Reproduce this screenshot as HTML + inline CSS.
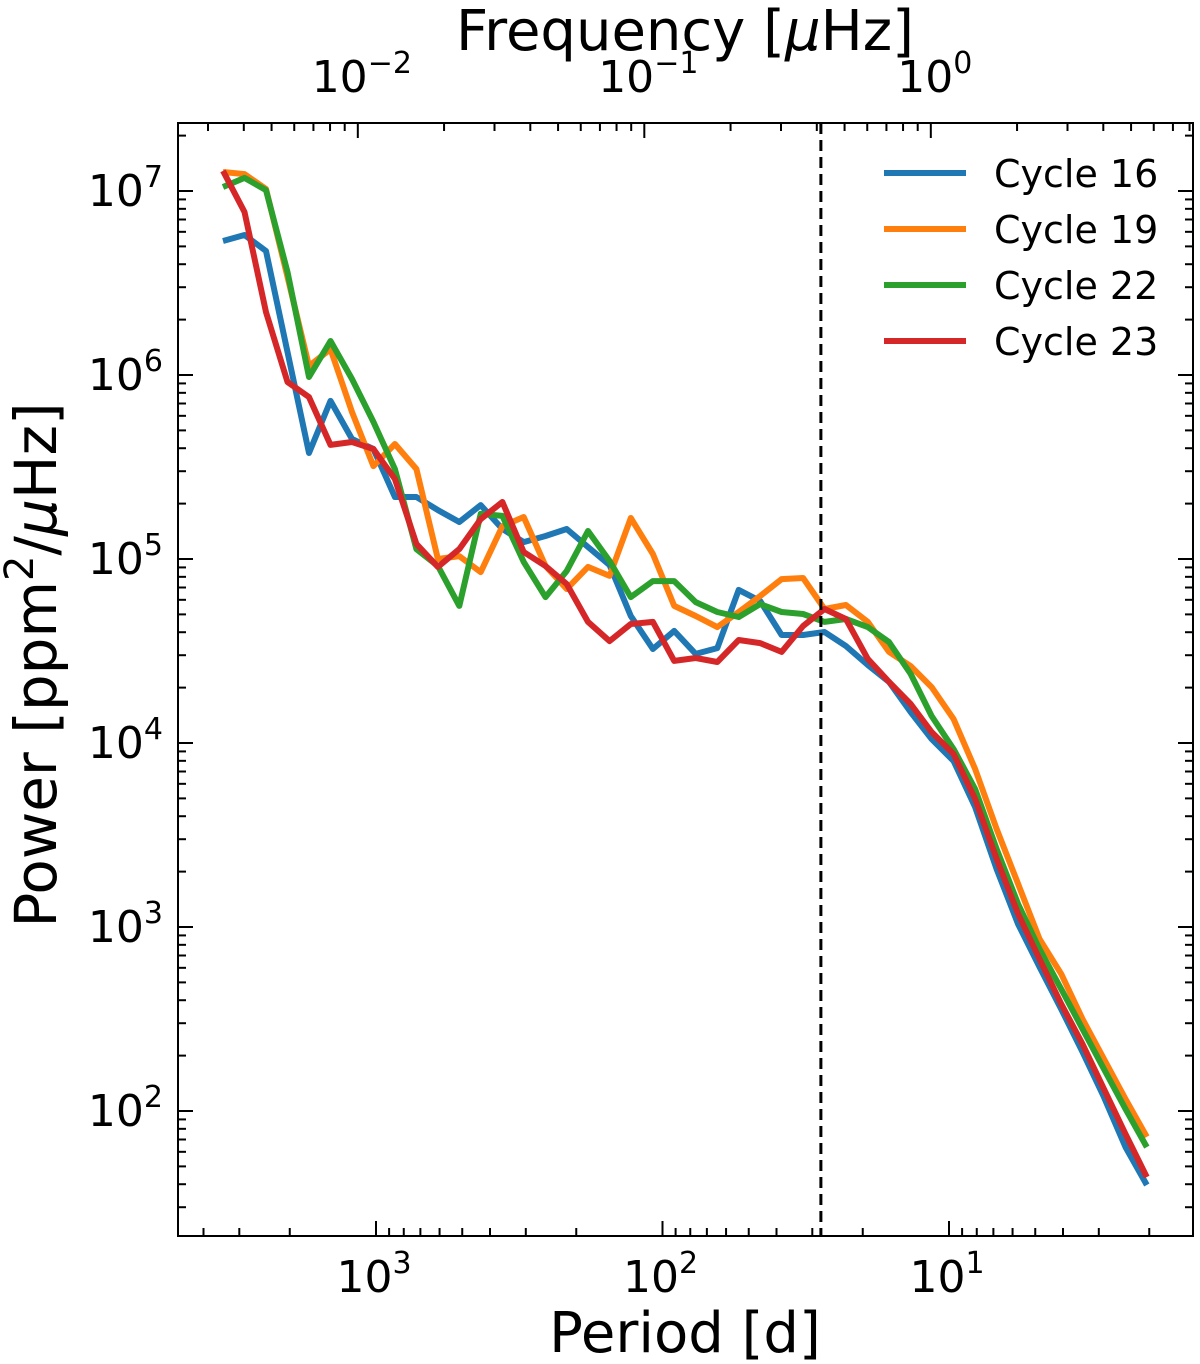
<!DOCTYPE html>
<html><head><meta charset="utf-8"><style>
html,body{margin:0;padding:0;background:#fff;}
svg{display:block;font-family:"DejaVu Sans","Liberation Sans",sans-serif;}
</style></head><body>
<svg id="chart" width="1200" height="1364" viewBox="0 0 1200 1364" xmlns="http://www.w3.org/2000/svg"></svg>
<script>
const periods = [3420,2877,2421,2037,1714,1442,1213,1021,859,723,608,512,431,362,305,256,216,182,153,129,108,91.0,76.6,64.4,54.2,45.6,38.4,32.3,27.2,22.9,19.2,16.2,13.6,11.5,9.64,8.11,6.82,5.74,4.83,4.06,3.42,2.88,2.42,2.04];
const cycle16LogPower = [6.728,6.761,6.674,6.125,5.576,5.859,5.652,5.598,5.337,5.337,5.266,5.201,5.293,5.163,5.092,5.125,5.163,5.065,4.967,4.690,4.511,4.609,4.484,4.516,4.832,4.772,4.587,4.587,4.603,4.527,4.424,4.332,4.168,4.022,3.902,3.652,3.315,3.016,2.783,2.554,2.321,2.076,1.804,1.598];
const cycle19LogPower = [7.103,7.092,7.011,6.533,6.049,6.141,5.799,5.505,5.625,5.489,5.000,5.016,4.929,5.179,5.228,4.962,4.837,4.957,4.908,5.223,5.027,4.745,4.690,4.630,4.712,4.799,4.891,4.897,4.728,4.750,4.658,4.495,4.418,4.304,4.130,3.859,3.533,3.234,2.935,2.745,2.500,2.283,2.065,1.859];
const cycle22LogPower = [7.022,7.071,7.005,6.560,5.989,6.185,5.978,5.745,5.489,5.054,4.962,4.745,5.245,5.234,4.984,4.793,4.935,5.152,4.989,4.793,4.880,4.880,4.766,4.712,4.685,4.755,4.712,4.701,4.658,4.674,4.630,4.549,4.375,4.147,3.967,3.750,3.424,3.125,2.880,2.663,2.446,2.228,2.011,1.804];
const cycle23LogPower = [7.109,6.886,6.342,5.962,5.880,5.620,5.636,5.598,5.435,5.082,4.957,5.054,5.217,5.310,5.038,4.962,4.864,4.658,4.554,4.647,4.658,4.446,4.462,4.440,4.560,4.543,4.495,4.636,4.728,4.674,4.457,4.332,4.212,4.060,3.940,3.696,3.370,3.071,2.826,2.582,2.364,2.120,1.875,1.641];
const seriesNames = ["Cycle 16","Cycle 19","Cycle 22","Cycle 23"];
const seriesColors = ["#1f77b4","#ff7f0e","#2ca02c","#d62728"];
const yTickExps = [2,3,4,5,6,7];
const xTickExps = [3,2,1];
const freqTickExps = [-2,-1,0];
const rotationPeriod = 28;

const NS="http://www.w3.org/2000/svg";
const svg=document.getElementById('chart');
const L=178,R=1193,T=123,B=1236;
function xOfP(p){return 376+(3-Math.log10(p))*286.5;}
function yOfLog(l){return 191+(7-l)*184;}
function mk(tag,attrs,parent){const e=document.createElementNS(NS,tag);for(const k in attrs)e.setAttribute(k,attrs[k]);(parent||svg).appendChild(e);return e;}

const clip=mk('clipPath',{id:'pc'});mk('rect',{x:L,y:T,width:R-L,height:B-T},clip);

const allSeries=[cycle16LogPower,cycle19LogPower,cycle22LogPower,cycle23LogPower];
allSeries.forEach((s,k)=>{
  const d=s.map((v,i)=>(i?'L':'M')+xOfP(periods[i]).toFixed(1)+','+yOfLog(v).toFixed(1)).join(' ');
  const p=mk('path',{d:d,fill:'none',stroke:seriesColors[k],'stroke-width':6,'stroke-linejoin':'round','clip-path':'url(#pc)'});
  
  
});

const dl=mk('line',{x1:xOfP(rotationPeriod),x2:xOfP(rotationPeriod),y1:T,y2:B,stroke:'#000','stroke-width':3,'stroke-dasharray':'11,6'});



const fr=mk('rect',{x:L,y:T,width:R-L,height:B-T,fill:'none',stroke:'#000','stroke-width':2});



function tick(x1,y1,x2,y2){mk('line',{x1,y1,x2,y2,stroke:'#000','stroke-width':2});}
for(let e=1;e<=7;e++){
  for(let m=1;m<10;m++){
    const l=e+Math.log10(m);const y=yOfLog(l);
    if(y<T||y>B)continue;
    const len=m===1?15:8;
    tick(L,y,L+len,y);tick(R,y,R-len,y);
  }
}
yTickExps.forEach(e=>{
  const t=mk('text',{x:163,y:yOfLog(e)+15,'text-anchor':'end','font-size':44});
  
  
  t.innerHTML='10<tspan dy="-19" font-size="30">'+e+'</tspan>';
});
for(let e=0;e<=3;e++){
  for(let m=1;m<10;m++){
    const x=xOfP(m*Math.pow(10,e));
    if(x<L||x>R)continue;
    tick(x,B,x,B-(m===1?15:8));
  }
}
xTickExps.forEach(e=>{
  const t=mk('text',{x:xOfP(Math.pow(10,e))-2,y:1292,'text-anchor':'middle','font-size':44});
  
  
  t.innerHTML='10<tspan dy="-19" font-size="30">'+e+'</tspan>';
});
for(let e=-3;e<=0;e++){
  for(let m=1;m<10;m++){
    const f=m*Math.pow(10,e);const x=xOfP(11.574/f);
    if(x<L||x>R)continue;
    tick(x,T,x,T+(m===1?15:8));
  }
}
freqTickExps.forEach(e=>{
  const t=mk('text',{x:xOfP(11.574/Math.pow(10,e))+4,y:92,'text-anchor':'middle','font-size':44});
  
  
  t.innerHTML='10<tspan dy="-19" font-size="30">'+(e<0?'\u2212'+(-e):e)+'</tspan>';
});

const xt=mk('text',{x:685,y:1352,'text-anchor':'middle','font-size':56});xt.textContent='Period [d]';


const tt=mk('text',{x:685,y:50,'text-anchor':'middle','font-size':56});tt.innerHTML='Frequency [<tspan font-style="italic">\u03bc</tspan>Hz]';


const yt=mk('text',{x:0,y:0,'text-anchor':'middle','font-size':58,transform:'translate(56,665) rotate(-90)'});
yt.innerHTML='Power [ppm<tspan dy="-23" font-size="40">2</tspan><tspan dy="23">/</tspan><tspan font-style="italic">\u03bc</tspan>Hz]';



seriesNames.forEach((n,k)=>{
  const y=173+k*56;
  const g=mk('g',{});
  
  
  mk('line',{x1:884,x2:966,y1:y,y2:y,stroke:seriesColors[k],'stroke-width':6},g);
  const t=mk('text',{x:994,y:y+14,'font-size':38},g);t.textContent=n;
});
</script>
</body></html>
